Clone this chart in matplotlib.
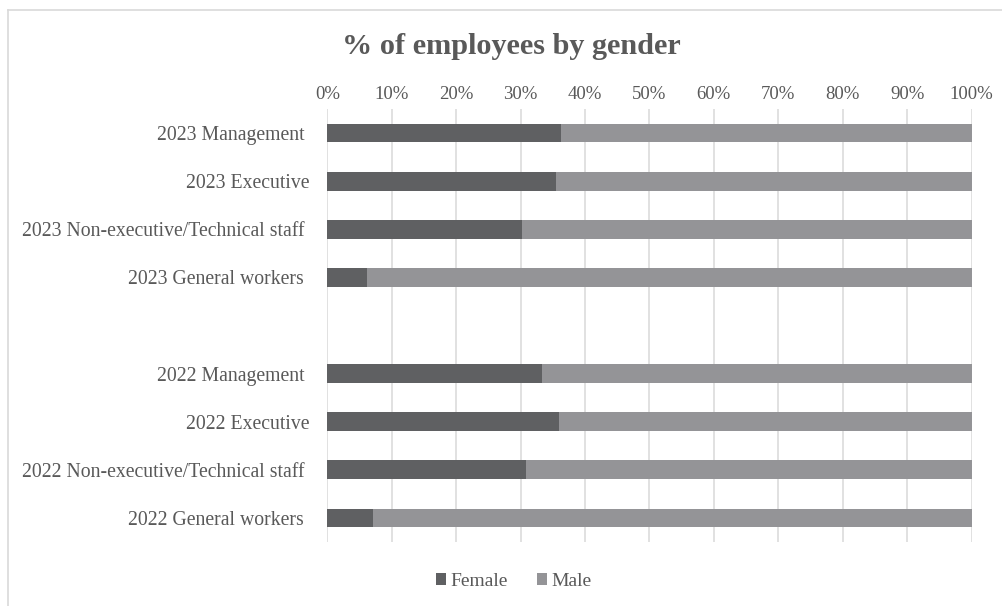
import matplotlib
matplotlib.use("Agg")
import matplotlib.pyplot as plt
from matplotlib.patches import Patch
from matplotlib.lines import Line2D
from matplotlib.ticker import PercentFormatter

# Share of employees (%) by gender, per job group and year
groups = ["Management", "Executive", "Non-executive/Technical staff", "General workers"]
years = ["2023", "2022"]
female_2023 = [36.2, 35.5, 30.3, 6.2]
male_2023 = [63.8, 64.5, 69.7, 93.8]
female_2022 = [33.3, 36.0, 30.8, 7.1]
male_2022 = [66.7, 64.0, 69.2, 92.9]
x_ticks = [0, 10, 20, 30, 40, 50, 60, 70, 80, 90, 100]

FEMALE_COLOR = "#5f6062"
MALE_COLOR = "#949497"
TEXT_COLOR = "#595959"
GRID_COLOR = "#d9d9d9"
FONT = ["Liberation Serif", "DejaVu Serif"]

plt.rcParams["font.family"] = FONT

fig = plt.figure(figsize=(10.02, 6.06), dpi=100)
W, H = 1002, 606
left, right, top, bottom = 327.3, 971.5, 109, 542
ax = fig.add_axes([left / W, 1 - bottom / H, (right - left) / W, (bottom - top) / H])

# 2023 rows on top, an empty slot, then 2022 rows
rows = [(years[0], f, m) for f, m in zip(female_2023, male_2023)] + \
       [(years[1], f, m) for f, m in zip(female_2022, male_2022)]
row_names = [f"{y} {g}" for y in years for g in groups]
positions = [0, 1, 2, 3, 5, 6, 7, 8]

fem_vals = [r[1] for r in rows]
male_vals = [r[2] for r in rows]
bar_h = 0.39
ax.barh(positions, fem_vals, height=bar_h, color=FEMALE_COLOR, label="Female", zorder=3)
ax.barh(positions, male_vals, left=fem_vals, height=bar_h, color=MALE_COLOR, label="Male", zorder=3)

ax.set_ylim(8.5, -0.5)
ax.set_xlim(0, 100)
ax.set_yticks(positions)
labels = [n if "Executive" in n and "Non" not in n else n + " " for n in row_names]
ax.set_yticklabels(labels)
ax.set_xticks(x_ticks)
ax.xaxis.set_major_formatter(PercentFormatter(decimals=0))
ax.xaxis.tick_top()
ax.tick_params(axis="x", length=0, pad=4.5, labelsize=13.5, labelcolor=TEXT_COLOR)
ax.tick_params(axis="y", length=0, pad=13, labelsize=14.2, labelcolor=TEXT_COLOR)

for s in ax.spines.values():
    s.set_visible(False)
ax.grid(axis="x", color=GRID_COLOR, linewidth=1.1, zorder=0)
ax.set_axisbelow(True)

fig.text(511.5 / W, 1 - 47 / H, "% of employees by gender", ha="center", va="center",
         fontsize=21.8, fontweight="bold", color=TEXT_COLOR)

handles = [Patch(facecolor=FEMALE_COLOR, label="Female"), Patch(facecolor=MALE_COLOR, label="Male")]
fig.legend(handles=handles, loc="center", bbox_to_anchor=(513.5 / W, 1 - 581.7 / H), ncol=2,
           frameon=False, fontsize=14, labelcolor=TEXT_COLOR, handlelength=0.55,
           handleheight=0.55, handletextpad=0.2, columnspacing=1.5)

# Chart frame (top and left edges)
fx0, fy0 = 7.7 / W, 1 - 9.7 / H
fig.add_artist(Line2D([fx0, 1.0], [fy0, fy0], color=GRID_COLOR, linewidth=1.2))
fig.add_artist(Line2D([fx0, fx0], [0.0, fy0], color=GRID_COLOR, linewidth=1.2))

fig.savefig("out.png", dpi=100, facecolor="white")
